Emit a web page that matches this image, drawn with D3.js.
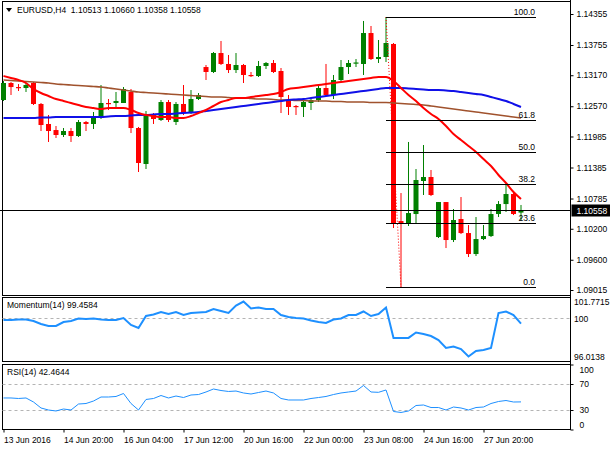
<!DOCTYPE html>
<html>
<head>
<meta charset="utf-8">
<script src="https://cdnjs.cloudflare.com/ajax/libs/d3/7.8.5/d3.min.js"></script>
<style>
body { margin: 0; background: #fff; }
svg text { font-family: "Liberation Sans", Arial, sans-serif; font-size: 8.5px; fill: #000; }
</style>
</head>
<body>
<div id="chart"></div>
<script>
// EURUSD H4 candles, 13 Jun 12:00 .. 28 Jun 16:00 (one entry per bar)
var open = [1.12691,1.13020,1.12942,1.12923,1.13020,1.12614,1.12227,1.12110,1.12014,1.12091,
	1.11994,1.12265,1.12227,1.12343,1.12633,1.12633,1.12633,1.12846,1.12149,1.11453,
	1.12401,1.12304,1.12652,1.12265,1.12614,1.12439,1.12710,1.13329,1.13233,1.13600,
	1.13388,1.13271,1.13368,1.13175,1.13155,1.13349,1.13407,1.13252,1.12691,1.12575,
	1.12556,1.12633,1.12691,1.12923,1.12788,1.13078,1.13329,1.13397,1.13388,1.13987,
	1.13484,1.13523,1.13775,1.10349,1.10292,1.10485,1.11124,1.11201,1.10040,1.10717,
	1.09982,1.10388,1.10117,1.09711,1.10001,1.10059,1.10485,1.10678,1.10872,1.10513];
var high = [1.13058,1.13039,1.13000,1.13020,1.13039,1.12633,1.12401,1.12188,1.12149,1.12149,
	1.12304,1.12285,1.12459,1.12981,1.12710,1.12846,1.12942,1.12904,1.12169,1.12478,
	1.12439,1.12691,1.12691,1.12652,1.12981,1.12884,1.12826,1.13368,1.13620,1.13833,
	1.13562,1.13600,1.13388,1.13233,1.13446,1.13426,1.13465,1.13310,1.12788,1.12594,
	1.12730,1.12730,1.12962,1.13388,1.13175,1.13465,1.13465,1.13484,1.14220,1.14123,
	1.13852,1.14297,1.13794,1.10891,1.11879,1.11356,1.11820,1.11337,1.10717,1.10717,
	1.10582,1.10814,1.10272,1.10427,1.10272,1.10582,1.10736,1.11066,1.10891,1.10660];
var low = [1.12672,1.12788,1.12865,1.12846,1.12594,1.12091,1.11879,1.11956,1.11975,1.11879,
	1.11975,1.12091,1.12130,1.12323,1.12497,1.12556,1.12633,1.12052,1.11298,1.11356,
	1.12227,1.12285,1.12265,1.12207,1.12401,1.12420,1.12691,1.13078,1.13213,1.13368,
	1.13213,1.13213,1.13020,1.13136,1.13136,1.13291,1.13213,1.12439,1.12401,1.12401,
	1.12362,1.12497,1.12652,1.12768,1.12710,1.13058,1.13194,1.13329,1.13175,1.13465,
	1.13407,1.13426,1.10214,1.09073,1.10253,1.10311,1.10853,1.10833,1.10021,1.09827,
	1.09943,1.10098,1.09653,1.09672,1.09982,1.10040,1.10427,1.10524,1.10465,1.10358];
var close = [1.13020,1.12942,1.12923,1.12981,1.12614,1.12207,1.12091,1.12014,1.12091,1.11994,
	1.12265,1.12227,1.12343,1.12633,1.12614,1.12672,1.12904,1.12149,1.11472,1.12420,
	1.12323,1.12652,1.12304,1.12614,1.12439,1.12710,1.12788,1.13233,1.13600,1.13388,
	1.13271,1.13368,1.13175,1.13155,1.13349,1.13407,1.13233,1.12749,1.12556,1.12556,
	1.12652,1.12691,1.12923,1.12788,1.13078,1.13329,1.13407,1.13417,1.13987,1.13484,
	1.13523,1.13794,1.10292,1.10311,1.10504,1.11143,1.11201,1.10853,1.10717,1.09982,
	1.10369,1.10117,1.09711,1.10001,1.10059,1.10485,1.10678,1.10872,1.10485,1.10558];

// moving averages (red = fast, blue = medium, brown = slow)
var maRed = [1.13155,1.13117,1.13078,1.13020,1.12904,1.12826,1.12768,1.12710,1.12672,1.12633,
	1.12594,1.12556,1.12536,1.12517,1.12536,1.12536,1.12536,1.12497,1.12440,1.12401,
	1.12381,1.12362,1.12362,1.12343,1.12343,1.12381,1.12440,1.12497,1.12575,1.12652,
	1.12691,1.12730,1.12730,1.12749,1.12768,1.12788,1.12807,1.12846,1.12904,1.12923,
	1.12942,1.12962,1.12981,1.13000,1.13020,1.13039,1.13058,1.13078,1.13097,1.13117,
	1.13136,1.13136,1.13058,1.12923,1.12788,1.12672,1.12536,1.12420,1.12323,1.12188,
	1.12033,1.11917,1.11801,1.11686,1.11549,1.11414,1.11240,1.11085,1.10911,1.10775];
var maBlue = [1.12343,1.12343,1.12343,1.12343,1.12343,1.12352,1.12352,1.12362,1.12362,1.12362,
	1.12362,1.12362,1.12362,1.12362,1.12372,1.12381,1.12381,1.12391,1.12401,1.12401,
	1.12411,1.12420,1.12420,1.12430,1.12440,1.12449,1.12459,1.12478,1.12497,1.12517,
	1.12536,1.12556,1.12575,1.12594,1.12614,1.12633,1.12652,1.12672,1.12691,1.12701,
	1.12710,1.12730,1.12749,1.12768,1.12788,1.12807,1.12826,1.12846,1.12865,1.12884,
	1.12904,1.12923,1.12923,1.12923,1.12914,1.12904,1.12894,1.12884,1.12884,1.12875,
	1.12865,1.12846,1.12826,1.12807,1.12788,1.12749,1.12710,1.12672,1.12614,1.12556];
var maBrown = [1.13078,1.13068,1.13058,1.13049,1.13039,1.13030,1.13020,1.13000,1.12991,1.12981,
	1.12971,1.12962,1.12952,1.12942,1.12923,1.12904,1.12884,1.12865,1.12846,1.12836,
	1.12826,1.12817,1.12807,1.12797,1.12788,1.12778,1.12768,1.12759,1.12749,1.12749,
	1.12739,1.12730,1.12730,1.12720,1.12710,1.12710,1.12701,1.12691,1.12691,1.12681,
	1.12681,1.12672,1.12672,1.12672,1.12662,1.12662,1.12652,1.12652,1.12652,1.12642,
	1.12642,1.12642,1.12633,1.12623,1.12614,1.12604,1.12594,1.12575,1.12556,1.12536,
	1.12517,1.12497,1.12478,1.12459,1.12440,1.12420,1.12401,1.12381,1.12362,1.12343];

// Momentum(14)
var momentum = [99.835,99.835,99.887,99.887,99.730,99.416,99.207,99.207,99.625,99.730,
	99.992,99.939,99.992,99.887,99.835,99.835,100.044,99.311,98.997,100.253,
	100.411,100.672,100.463,100.672,100.358,100.568,100.620,100.672,100.986,100.777,
	100.568,101.353,101.7715,101.039,101.143,100.986,100.986,100.358,100.149,100.044,
	99.992,99.782,99.625,99.521,99.887,99.992,100.358,100.358,100.725,100.253,
	100.463,101.143,97.963,97.963,97.963,98.526,98.369,98.160,97.741,96.904,
	97.061,96.799,96.0138,96.590,96.694,96.904,100.568,100.725,100.358,99.4584];

// RSI(14)
var rsi = [48.5,48.5,47.7,48.5,42.3,33.1,30.0,28.5,31.5,30.0,
	39.2,40.0,43.8,50.0,50.0,50.8,55.4,40.0,30.0,46.2,
	47.7,52.3,48.5,51.5,49.2,53.1,53.8,57.7,62.3,60.0,
	58.5,59.2,56.2,54.6,56.9,59.2,56.2,47.7,45.4,45.4,
	45.4,47.7,49.2,50.8,53.8,56.2,57.7,59.2,67.7,57.7,
	57.2,60.8,27.7,26.2,28.5,36.9,37.7,33.8,33.8,30.0,
	34.6,33.1,30.0,33.8,34.6,40.0,43.1,44.6,42.3,42.4644];

var priceTicks = [1.14355,1.13755,1.13170,1.12570,1.11985,1.11385,1.10785,1.10200,1.09600,1.09015];
var momTicks = [101.7715,100,96.0138];
var rsiTicks = [100,70,30,0];
var rsiLevels = [70,30];
var fibLevels = [100,61.8,50,38.2,23.6,0];
var timeBars = [0,8,16,24,32,40,48,56,64];
var timeLabels = ["13 Jun 2016","14 Jun 20:00","16 Jun 04:00","17 Jun 12:00","20 Jun 16:00",
	"22 Jun 00:00","23 Jun 08:00","24 Jun 16:00","27 Jun 20:00"];

var W = 610, H = 450;
var left = 2.5, right = 570.5;
var mainTop = 1.5, mainBottom = 295.5;
var momTop = 297.5, momBottom = 361.5;
var rsiTop = 364.5, rsiBottom = 429.5;
var bull = "#008000", bear = "#ff0000";
var f5 = d3.format(".5f");
var bars = d3.range(open.length);

var x = d3.scaleLinear().domain([0, 69]).range([3.5, 521]);
var y = d3.scaleLinear().domain([1.09015, 1.14355]).range([290, 14]);
var yMom = d3.scaleLinear().domain([96.0138, 101.7715]).range([356.5, 301.5]);
var yRsi = d3.scaleLinear().domain([0, 100]).range([rsiBottom, rsiTop]);

var svg = d3.select("#chart").append("svg")
	.attr("width", W)
	.attr("height", H);

// panel frames
[[mainTop, mainBottom], [momTop, momBottom], [rsiTop, rsiBottom]].forEach(function(p) {
	svg.append("rect")
		.attr("x", left)
		.attr("y", p[0])
		.attr("width", right - left)
		.attr("height", p[1] - p[0])
		.attr("fill", "none")
		.attr("stroke", "#000");
});

// header
svg.append("path")
	.attr("d", "M6,8 L12,8 L9,12 Z")
	.attr("fill", "#000");
svg.append("text")
	.attr("x", 17)
	.attr("y", 13)
	.style("white-space", "pre")
	.text("EURUSD,H4  " + [open[69], high[69], low[69], close[69]].map(f5).join(" "));

// candles
var candle = svg.append("g");
candle.selectAll("line")
	.data(bars)
	.enter()
	.append("line")
	.attr("x1", function(i) {return x(i);})
	.attr("x2", function(i) {return x(i);})
	.attr("y1", function(i) {return y(high[i]);})
	.attr("y2", function(i) {return y(low[i]);})
	.attr("stroke", function(i) {return close[i] >= open[i] ? bull : bear;})
	.attr("stroke-width", 1);
candle.selectAll("rect")
	.data(bars)
	.enter()
	.append("rect")
	.attr("x", function(i) {return x(i) - 2.5;})
	.attr("width", 5)
	.attr("y", function(i) {return y(Math.max(open[i], close[i]));})
	.attr("height", function(i) {return Math.max(1.2, Math.abs(y(open[i]) - y(close[i])));})
	.attr("fill", function(i) {return close[i] >= open[i] ? bull : bear;});

// moving averages
var maLine = d3.line()
	.x(function(d, i) {return x(i);})
	.y(function(d) {return y(d);})
	.curve(d3.curveMonotoneX);
[[maBrown, "#a0522d", 1.6], [maBlue, "#1010e8", 2], [maRed, "#ff0000", 2]].forEach(function(m) {
	svg.append("path")
		.attr("fill", "none")
		.attr("stroke", m[1])
		.attr("stroke-width", m[2])
		.attr("d", maLine(m[0]));
});

// fibonacci retracement
var fibHigh = d3.max(high), fibLow = d3.min(low);
var hiBar = high.indexOf(fibHigh), loBar = low.indexOf(fibLow);
svg.append("line")
	.attr("x1", x(hiBar))
	.attr("y1", y(fibHigh))
	.attr("x2", x(loBar))
	.attr("y2", y(fibLow))
	.attr("stroke", "#ff0000")
	.attr("stroke-dasharray", "1,2");
var fib = svg.append("g").selectAll("g")
	.data(fibLevels)
	.enter()
	.append("g");
fib.append("line")
	.attr("x1", x(hiBar))
	.attr("x2", x(71))
	.attr("y1", function(d) {return Math.round(y(fibLow + (fibHigh - fibLow) * d / 100)) + 0.5;})
	.attr("y2", function(d) {return Math.round(y(fibLow + (fibHigh - fibLow) * d / 100)) + 0.5;})
	.attr("stroke", "#000");
fib.append("text")
	.attr("x", x(71) - 1)
	.attr("y", function(d) {return y(fibLow + (fibHigh - fibLow) * d / 100) - 2;})
	.attr("text-anchor", "end")
	.text(function(d) {return d3.format(".1f")(d);});

// current price line
var yLast = Math.round(y(close[69])) + 0.5;
svg.append("line")
	.attr("x1", 0)
	.attr("x2", right)
	.attr("y1", yLast)
	.attr("y2", yLast)
	.attr("stroke", "#000");

// momentum panel
svg.append("line")
	.attr("x1", left)
	.attr("x2", right)
	.attr("y1", Math.round(yMom(100)) + 0.5)
	.attr("y2", Math.round(yMom(100)) + 0.5)
	.attr("stroke", "#b4b4b4")
	.attr("stroke-dasharray", "3,3");
svg.append("path")
	.attr("fill", "none")
	.attr("stroke", "#1e90ff")
	.attr("stroke-width", 2)
	.attr("d", d3.line()
		.x(function(d, i) {return x(i);})
		.y(function(d) {return yMom(d);})(momentum));
svg.append("text")
	.attr("x", 7)
	.attr("y", 308)
	.text("Momentum(14) " + d3.format(".4f")(momentum[69]));

// RSI panel
svg.selectAll(".rsilevel")
	.data(rsiLevels)
	.enter()
	.append("line")
	.attr("x1", left)
	.attr("x2", right)
	.attr("y1", function(d) {return Math.round(yRsi(d)) + 0.5;})
	.attr("y2", function(d) {return Math.round(yRsi(d)) + 0.5;})
	.attr("stroke", "#b4b4b4")
	.attr("stroke-dasharray", "3,3");
svg.append("path")
	.attr("fill", "none")
	.attr("stroke", "#1e90ff")
	.attr("stroke-width", 1)
	.attr("d", d3.line()
		.x(function(d, i) {return x(i);})
		.y(function(d) {return yRsi(d);})(rsi));
svg.append("text")
	.attr("x", 7)
	.attr("y", 375)
	.text("RSI(14) " + d3.format(".4f")(rsi[69]));

// right axes
function styleAxis(g) {
	g.select(".domain").remove();
	g.selectAll("line").attr("stroke", "#000");
	g.selectAll("text")
		.attr("fill", "#000")
		.style("font-family", "'Liberation Sans', Arial, sans-serif")
		.style("font-size", "8.5px");
}
svg.append("line")
	.attr("x1", right)
	.attr("x2", right)
	.attr("y1", 0)
	.attr("y2", rsiBottom)
	.attr("stroke", "#000");
svg.append("g")
	.attr("transform", "translate(" + right + ",0)")
	.call(d3.axisRight(y).tickValues(priceTicks).tickSize(3).tickPadding(3).tickFormat(f5))
	.call(styleAxis);
svg.append("g")
	.attr("transform", "translate(" + right + ",0)")
	.call(d3.axisRight(yMom).tickValues(momTicks).tickSize(0).tickPadding(3.5)
		.tickFormat(function(d) {return d === 100 ? "100" : d3.format(".4f")(d);}))
	.call(styleAxis);
svg.append("g")
	.attr("transform", "translate(" + right + ",0)")
	.call(d3.axisRight(yRsi).tickValues(rsiTicks).tickSize(3).tickPadding(6))
	.call(styleAxis)
	.selectAll("text")
	.attr("y", function(d) {return d === 100 ? 5 : d === 0 ? -5 : 0;});

// current price tag
svg.append("rect")
	.attr("x", right + 1)
	.attr("y", yLast - 6)
	.attr("width", W - right - 1)
	.attr("height", 12)
	.attr("fill", "#000");
svg.append("text")
	.attr("x", right + 6)
	.attr("y", yLast + 3)
	.style("fill", "#fff")
	.text(f5(close[69]));

// time axis
svg.append("g")
	.attr("transform", "translate(0," + rsiBottom + ")")
	.call(d3.axisBottom(x).tickValues(timeBars).tickSize(3).tickPadding(4)
		.tickFormat(function(d, i) {return timeLabels[i];}))
	.call(styleAxis)
	.selectAll("text")
	.attr("text-anchor", "start")
	.attr("x", 0);
</script>
</body>
</html>
